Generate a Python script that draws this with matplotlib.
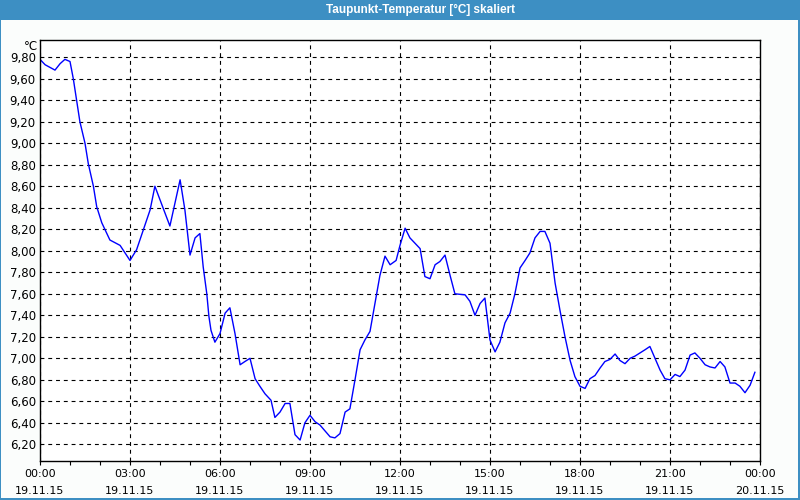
import matplotlib
matplotlib.use("Agg")
import matplotlib.pyplot as plt
from matplotlib.patches import Rectangle
from matplotlib.ticker import FixedLocator, MultipleLocator, FuncFormatter

# Stunden ab 19.11.15 00:00
hours = [0.00, 0.17, 0.50, 0.67, 0.83, 1.00, 1.11, 1.22, 1.33, 1.50,
         1.61, 1.78, 1.89, 2.06, 2.33, 2.67, 3.00, 3.22, 3.67, 3.83,
         4.33, 4.67, 4.83, 5.00, 5.17, 5.33, 5.44, 5.56, 5.63, 5.70,
         5.83, 6.00, 6.17, 6.33, 6.50, 6.67, 6.83, 7.00, 7.17, 7.33,
         7.50, 7.70, 7.83, 8.00, 8.17, 8.33, 8.50, 8.67, 8.83, 9.00,
         9.17, 9.33, 9.67, 9.83, 10.00, 10.17, 10.33, 10.50, 10.67, 10.83,
         11.00, 11.22, 11.33, 11.50, 11.67, 11.87, 12.00, 12.17, 12.33, 12.67,
         12.83, 13.00, 13.17, 13.33, 13.50, 13.67, 13.83, 14.17, 14.33, 14.50,
         14.67, 14.83, 15.00, 15.17, 15.33, 15.50, 15.67, 15.83, 16.00, 16.17,
         16.33, 16.50, 16.67, 16.83, 17.00, 17.17, 17.33, 17.50, 17.67, 17.83,
         18.00, 18.17, 18.33, 18.50, 18.67, 18.83, 19.00, 19.17, 19.33, 19.50,
         19.67, 19.83, 20.00, 20.17, 20.33, 20.50, 20.67, 20.83, 21.00, 21.17,
         21.33, 21.50, 21.67, 21.83, 22.00, 22.17, 22.33, 22.50, 22.67, 22.83,
         23.00, 23.17, 23.33, 23.50, 23.67, 23.83]

taupunkt = [9.78, 9.73, 9.68, 9.74, 9.78, 9.76, 9.60, 9.40, 9.20, 9.00,
            8.81, 8.60, 8.41, 8.26, 8.10, 8.05, 7.91, 8.01, 8.38, 8.60,
            8.23, 8.66, 8.38, 7.96, 8.12, 8.16, 7.85, 7.60, 7.39, 7.26,
            7.15, 7.23, 7.42, 7.47, 7.23, 6.94, 6.97, 7.00, 6.81, 6.74,
            6.67, 6.61, 6.45, 6.50, 6.58, 6.58, 6.29, 6.24, 6.40, 6.47,
            6.41, 6.38, 6.27, 6.26, 6.30, 6.50, 6.53, 6.80, 7.08, 7.17,
            7.25, 7.60, 7.77, 7.95, 7.87, 7.91, 8.05, 8.21, 8.12, 8.02,
            7.76, 7.74, 7.87, 7.90, 7.96, 7.77, 7.60, 7.59, 7.53, 7.40,
            7.51, 7.56, 7.17, 7.06, 7.15, 7.33, 7.42, 7.60, 7.84, 7.91,
            7.98, 8.12, 8.18, 8.18, 8.07, 7.70, 7.45, 7.20, 6.98, 6.83,
            6.74, 6.72, 6.81, 6.84, 6.91, 6.97, 6.99, 7.04, 6.98, 6.95,
            7.00, 7.02, 7.05, 7.08, 7.11, 7.00, 6.89, 6.81, 6.80, 6.85,
            6.83, 6.89, 7.03, 7.05, 7.00, 6.94, 6.92, 6.91, 6.97, 6.92,
            6.77, 6.77, 6.74, 6.68, 6.75, 6.87]

x_ticks = [0, 3, 6, 9, 12, 15, 18, 21, 24]
x_labels = ["00:00\n19.11.15", "03:00\n19.11.15", "06:00\n19.11.15",
            "09:00\n19.11.15", "12:00\n19.11.15", "15:00\n19.11.15",
            "18:00\n19.11.15", "21:00\n19.11.15", "00:00\n20.11.15"]
y_ticks = [6.2, 6.4, 6.6, 6.8, 7.0, 7.2, 7.4, 7.6, 7.8, 8.0,
           8.2, 8.4, 8.6, 8.8, 9.0, 9.2, 9.4, 9.6, 9.8]

title = "Taupunkt-Temperatur [°C] skaliert"
blau = "#3d8fc3"

plt.rcParams['font.family'] = ['DejaVu Sans']

fig = plt.figure(figsize=(8, 5), dpi=100, facecolor="#fbfdfc")
ax = fig.add_axes([0.05, 0.078, 0.90, 0.842])
ax.set_facecolor("white")

ax.plot(hours, taupunkt, color="#0000ff", lw=1.0)

ax.set_xlim(0, 24)
ax.set_ylim(6.045, 9.96)

ax.xaxis.set_major_locator(FixedLocator(x_ticks))
ax.set_xticklabels(x_labels, fontsize=8, linespacing=1.85)
ax.xaxis.set_minor_locator(MultipleLocator(1))
ax.yaxis.set_major_locator(FixedLocator(y_ticks))
ax.yaxis.set_major_formatter(FuncFormatter(lambda v, p: f"{v:.2f}".replace(".", ",")))

ax.tick_params(axis="x", which="both", direction="out", length=3, width=0.8,
               color="black", pad=3, labelcolor="black")
ax.tick_params(axis="y", which="both", length=0, pad=3, labelsize=8.5,
               labelcolor="black")

ax.grid(True, which="major", color="black", linestyle=(0, (3.5, 3.5)), lw=0.8)
ax.set_axisbelow(True)
for s in ax.spines.values():
    s.set_color("black")
    s.set_linewidth(1.0)

ax.annotate("°C", xy=(0, 1), xycoords="axes fraction", xytext=(-2, -6),
            textcoords="offset pixels", ha="right", va="center", fontsize=8.5)

# Titelleiste und Rahmen
fig.patches.append(Rectangle((0, 0.96), 1, 0.04, transform=fig.transFigure,
                             facecolor=blau, edgecolor="none", zorder=0))
fig.patches.append(Rectangle((0, 0), 0.0013, 1, transform=fig.transFigure,
                             facecolor=blau, edgecolor="none", zorder=0))
fig.patches.append(Rectangle((0.9975, 0), 0.0025, 1, transform=fig.transFigure,
                             facecolor=blau, edgecolor="none", zorder=0))
fig.patches.append(Rectangle((0, 0), 1, 0.004, transform=fig.transFigure,
                             facecolor=blau, edgecolor="none", zorder=0))
fig.text(0.525, 0.98, title, color="white", fontsize=8.5, fontweight="bold",
         ha="center", va="center", family="Liberation Sans")

fig.savefig("out.png", dpi=100, facecolor=fig.get_facecolor())
